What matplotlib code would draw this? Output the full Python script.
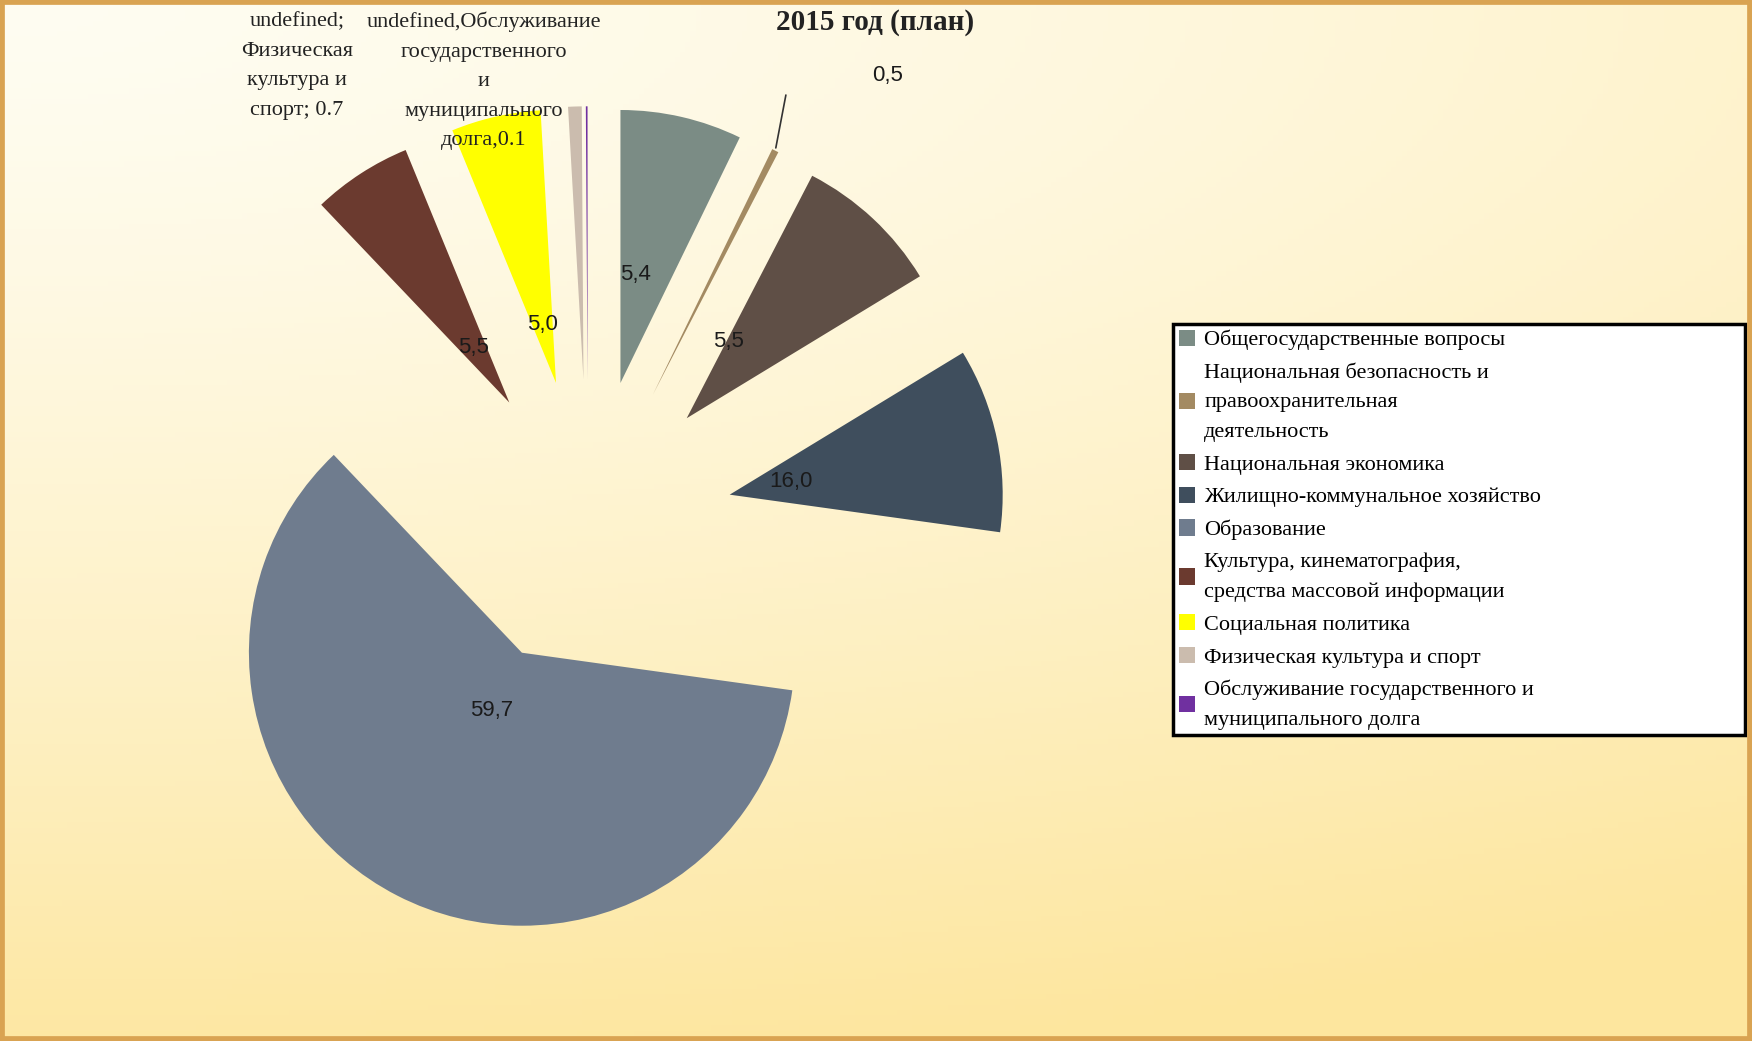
import matplotlib
matplotlib.use("Agg")
import matplotlib.pyplot as plt
import numpy as np
from matplotlib.patches import Rectangle

W, H, DPI = 1752, 1041, 100

title = "2015 год (план)"
categories = [
    "Общегосударственные вопросы",
    "Национальная безопасность и\nправоохранительная\nдеятельность",
    "Национальная экономика",
    "Жилищно-коммунальное хозяйство",
    "Образование",
    "Культура, кинематография,\nсредства массовой информации",
    "Социальная политика",
    "Физическая культура и спорт",
    "Обслуживание государственного и\nмуниципального долга",
]
# data labels as printed on the chart
value_labels = ["5,4", "0,5", "5,5", "16,0", "59,7", "5,5", "5,0", "0.7", "0.1"]
# slice shares as drawn (%)
shares = [7.2, 0.4, 8.7, 10.9, 60.7, 5.9, 5.3, 0.8, 0.1]
colors = ["#7b8c85", "#a38a62", "#5f4f46", "#3f4e5d", "#6f7c8e",
          "#6b3a2f", "#ffff00", "#cbbcae", "#7030a0"]

# pie placement in pixels
R_PX = 273
CX, CY = 588, 517

fig = plt.figure(figsize=(W / DPI, H / DPI), dpi=DPI)

# background gradient
bg = fig.add_axes([0, 0, 1, 1], zorder=0)
yy, xx = np.mgrid[0:1:200j, 0:1:340j]
d = np.clip(np.hypot(xx * 0.55, yy) / 1.05, 0, 1) ** 1.3
c0 = np.array([255, 253, 242]) / 255
c1 = np.array([253, 230, 158]) / 255
grad = c0 + (c1 - c0) * d[..., None]
bg.imshow(grad, aspect="auto", extent=(0, 1, 0, 1), origin="upper")
bg.axis("off")

ax = fig.add_axes([0, 0, 1, 1], zorder=1)
ax.set_facecolor("none")
wedges, _ = ax.pie(shares, colors=colors, explode=[0.53] * len(shares),
                   startangle=90, counterclock=False, radius=1,
                   wedgeprops=dict(linewidth=0))
ax.set_xlim(-CX / R_PX, (W - CX) / R_PX)
ax.set_ylim(-CY / R_PX, (H - CY) / R_PX)
ax.set_aspect("auto")
ax.axis("off")


def wedge_point(w, rfrac, tfrac=0.5):
    ang = np.deg2rad(w.theta2 - tfrac * (w.theta2 - w.theta1))
    return (w.center[0] + rfrac * w.r * np.cos(ang),
            w.center[1] + rfrac * w.r * np.sin(ang))


# labels inside the slices: (radial fraction, angular fraction)
inner = {0: (0.40, 0.30), 2: (0.32, 0.04), 3: (0.23, 0.5),
         4: (0.24, 0.5), 5: (0.24, 0.5), 6: (0.22, 0.5)}
for i, (rf, tf) in inner.items():
    x, y = wedge_point(wedges[i], rf, tf)
    ax.text(x, y, value_labels[i], ha="center", va="center",
            fontsize=16, family="Liberation Sans", color="#1a1a1a")

# small slice with a leader line
tip = wedge_point(wedges[1], 1.0)
ax.annotate("", xy=tip, xytext=(8, 42), textcoords="offset points",
            arrowprops=dict(arrowstyle="-", color="#333333", lw=1.2))
ax.annotate(value_labels[1], xy=tip, xytext=(81, 54), textcoords="offset points",
            ha="center", va="center", fontsize=16, family="Liberation Sans",
            color="#1a1a1a")

# overlapping labels of the two smallest slices
label_a = "undefined;\nФизическая\nкультура и\nспорт; " + value_labels[7]
label_b = ("undefined,Обслуживание\nгосударственного\nи\nмуниципального\nдолга,"
           + value_labels[8])
for w, txt, dx in [(wedges[7], label_a, -200), (wedges[8], label_b, -74)]:
    ax.annotate(txt, xy=wedge_point(w, 1.0), xytext=(dx, 68),
                textcoords="offset points", ha="center", va="top",
                multialignment="center", fontsize=16, family="Liberation Serif",
                color="#222222", linespacing=1.75)

fig.text(875 / W, 1 - 22 / H, title, ha="center", va="center", fontsize=21,
         fontweight="bold", family="Liberation Serif", color="#222222")

leg = ax.legend(wedges, categories, loc="upper left",
                bbox_to_anchor=(1173 / W, 1 - 324 / H, (1745 - 1173) / W, 0),
                bbox_transform=fig.transFigure, mode="expand", borderaxespad=0,
                frameon=True, fancybox=False, edgecolor="black",
                facecolor="white", framealpha=1,
                prop=dict(family="Liberation Serif", size=16),
                handlelength=0.75, handleheight=0.75, handletextpad=0.4,
                labelspacing=0.54, borderpad=0.25)
for t in leg.get_texts():
    t.set_linespacing(1.74)
leg.get_frame().set_linewidth(2.5)

fig.add_artist(Rectangle((0, 0), 1, 1, transform=fig.transFigure, fill=False,
                         edgecolor="#d9a352", linewidth=7, zorder=5))

fig.savefig("out.png", dpi=DPI)
